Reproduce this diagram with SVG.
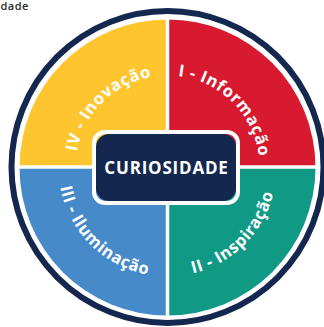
<svg xmlns="http://www.w3.org/2000/svg" width="324" height="327" viewBox="0 0 324 327">
<style>
.lbl{font-family:"Open Sans","Liberation Sans",sans-serif;font-weight:700;font-size:16.5px;letter-spacing:0.6px;fill:#fff;}
.title{font-family:"Open Sans","Liberation Sans",sans-serif;font-weight:700;font-size:17px;letter-spacing:0.8px;fill:#fff;}
.cut{font-family:"Open Sans","Liberation Sans",sans-serif;font-size:11px;font-weight:600;letter-spacing:0.5px;fill:#2b2b2b;}
</style>
<defs>
<path id="arcTop" d="M 75.5 167.5 A 92 92 0 0 1 259.5 167.5"/>
<path id="arcBot" d="M 58.5 167.5 A 109 109 0 0 0 276.5 167.5"/>
</defs>
<rect width="324" height="327" fill="#fff"/>
<text class="cut" x="0.5" y="9.5">dade</text>
<circle cx="167.5" cy="167" r="156" fill="none" stroke="#14284F" stroke-width="6"/>
<g id="q1">
<path d="M167.5 167.5 L167.5 19.5 A148 148 0 0 1 315.5 167.5 Z" fill="#D71A30"/>
<text class="lbl"><textPath href="#arcTop" startOffset="75%" text-anchor="middle">I - Informação</textPath></text>
</g>
<g id="q2">
<path d="M167.5 167.5 L315.5 167.5 A148 148 0 0 1 167.5 315.5 Z" fill="#109985"/>
<text class="lbl"><textPath href="#arcBot" startOffset="75%" text-anchor="middle">II - Inspiração</textPath></text>
</g>
<g id="q3">
<path d="M167.5 167.5 L167.5 315.5 A148 148 0 0 1 19.5 167.5 Z" fill="#468ACA"/>
<text class="lbl"><textPath href="#arcBot" startOffset="25%" text-anchor="middle">III - Iluminação</textPath></text>
</g>
<g id="q4">
<path d="M167.5 167.5 L19.5 167.5 A148 148 0 0 1 167.5 19.5 Z" fill="#FEC52E"/>
<text class="lbl"><textPath href="#arcTop" startOffset="25%" text-anchor="middle">IV - Inovação</textPath></text>
</g>
<g id="dividers" stroke="#fff" stroke-width="3.5">
<line x1="167.5" y1="17" x2="167.5" y2="318"/>
<line x1="17" y1="167" x2="318" y2="167"/>
</g>
<g id="center">
<rect x="94" y="132" width="144" height="71" rx="11" fill="none" stroke="#fff" stroke-width="4"/>
<rect x="96" y="134" width="140" height="67" rx="13" fill="#14284F"/>
<text class="title" x="166.5" y="174" text-anchor="middle">CURIOSIDADE</text>
</g>
</svg>
